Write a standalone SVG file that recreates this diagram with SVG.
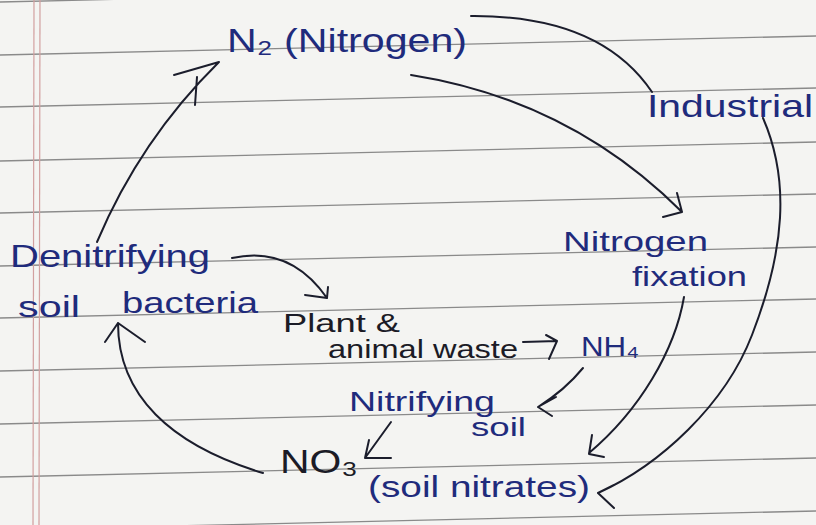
<svg xmlns="http://www.w3.org/2000/svg" width="816" height="525" viewBox="0 0 816 525">
<style>
.lbl{font-family:"Liberation Sans","DejaVu Sans",sans-serif;}
.ink{fill:#1f2b7c;}
.blk{fill:#1b1b26;}
.conn{fill:none;stroke:#1b1d2c;stroke-width:2;stroke-linecap:round;stroke-linejoin:round;}
.rule{stroke:#8a8a8a;stroke-width:1.3;}
.margin{stroke:#d2a0a0;stroke-width:1.2;}
</style>
<rect x="0" y="0" width="816" height="525" fill="#f4f4f2"/>
<g id="paper">
<line class="rule" x1="0" y1="2" x2="816" y2="-17"/>
<line class="rule" x1="0" y1="55" x2="816" y2="36"/>
<line class="rule" x1="0" y1="107" x2="816" y2="88"/>
<line class="rule" x1="0" y1="161" x2="816" y2="142"/>
<line class="rule" x1="0" y1="213" x2="816" y2="194"/>
<line class="rule" x1="0" y1="266" x2="816" y2="247"/>
<line class="rule" x1="0" y1="318" x2="816" y2="299"/>
<line class="rule" x1="0" y1="371" x2="816" y2="352"/>
<line class="rule" x1="0" y1="424" x2="816" y2="405"/>
<line class="rule" x1="0" y1="477" x2="816" y2="458"/>
<line class="rule" x1="0" y1="530" x2="816" y2="511"/>
<line class="margin" x1="34" y1="0" x2="33" y2="525"/>
<line class="margin" x1="40" y1="0" x2="39" y2="525"/>
</g>
<g id="n-nitrogen"><text class="lbl ink" x="227" y="52" font-size="34" textLength="240" lengthAdjust="spacingAndGlyphs">N₂ (Nitrogen)</text></g>
<g id="n-industrial"><text class="lbl ink" x="647" y="117" font-size="32" textLength="166" lengthAdjust="spacingAndGlyphs">Industrial</text></g>
<g id="n-denitrifying">
<text class="lbl ink" x="10" y="267" font-size="32" textLength="200" lengthAdjust="spacingAndGlyphs">Denitrifying</text>
<text class="lbl ink" font-size="30"><tspan x="18" y="317" textLength="62" lengthAdjust="spacingAndGlyphs">soil</tspan> <tspan x="122" y="313" textLength="136" lengthAdjust="spacingAndGlyphs">bacteria</tspan></text>
</g>
<g id="n-fixation">
<text class="lbl ink" x="563" y="251" font-size="28" textLength="145" lengthAdjust="spacingAndGlyphs">Nitrogen</text>
<text class="lbl ink" x="632" y="286" font-size="28" textLength="115" lengthAdjust="spacingAndGlyphs">fixation</text>
</g>
<g id="n-waste">
<text class="lbl blk" x="283" y="332" font-size="25" textLength="117" lengthAdjust="spacingAndGlyphs">Plant &amp;</text>
<text class="lbl blk" x="328" y="358" font-size="25" textLength="190" lengthAdjust="spacingAndGlyphs">animal waste</text>
</g>
<g id="n-nh4"><text class="lbl ink" x="581" y="356" font-size="28" textLength="58" lengthAdjust="spacingAndGlyphs">NH₄</text></g>
<g id="n-nitrifying">
<text class="lbl ink" x="349" y="411" font-size="28" textLength="146" lengthAdjust="spacingAndGlyphs">Nitrifying</text>
<text class="lbl ink" x="471" y="436" font-size="26" textLength="55" lengthAdjust="spacingAndGlyphs">soil</text>
</g>
<g id="n-no3">
<text class="lbl blk" x="280" y="473" font-size="34" textLength="78" lengthAdjust="spacingAndGlyphs">NO₃</text>
<text class="lbl ink" x="368" y="497" font-size="30" textLength="222" lengthAdjust="spacingAndGlyphs">(soil nitrates)</text>
</g>
<g id="connectors">
<path class="conn" d="M97,242 Q140,140 219,62 M174,75 L219,62 M197,77 L195,105"/>
<path class="conn" d="M471,16 Q600,15 652,92"/>
<path class="conn" d="M411,75 Q570,100 682,212 M663,217 L682,212 L677,193"/>
<path class="conn" d="M763,118 C790,180 785,250 752,335 C725,405 660,465 598,493 M614,485 L598,493 L614,508"/>
<path class="conn" d="M684,297 C675,350 640,410 589,453 M592,435 L589,454 L604,457"/>
<path class="conn" d="M232,258 Q290,245 327,298 M305,295 L327,298 L328,287"/>
<path class="conn" d="M523,342 L557,341 M546,335 L557,341 L549,359"/>
<path class="conn" d="M583,368 Q565,390 538,407 M556,397 L538,407 L552,416"/>
<path class="conn" d="M391,422 L365,458 M369,440 L365,458 L391,458"/>
<path class="conn" d="M263,473 C170,445 118,395 118,323 M105,342 L118,323 L145,342"/>
</g>
</svg>
